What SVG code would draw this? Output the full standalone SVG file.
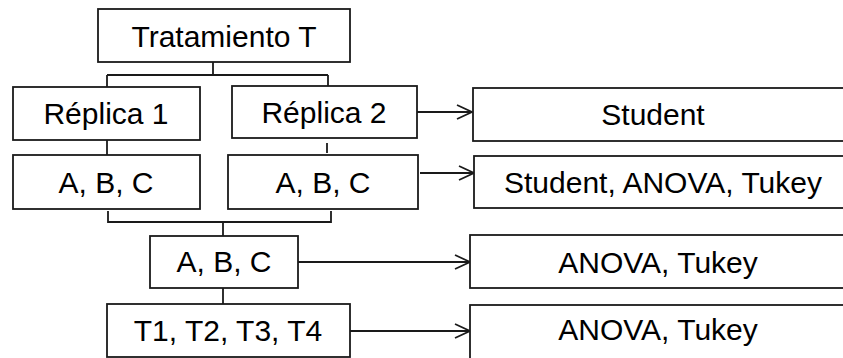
<svg xmlns="http://www.w3.org/2000/svg" width="843" height="358" viewBox="0 0 843 358">
<defs>
<style>
.box{fill:#fff;stroke:#1a1a1a;stroke-width:1.8}
.lbl{font-family:"Liberation Sans",Arial,sans-serif;font-size:30px;fill:#000;text-anchor:middle}
.con{fill:none;stroke:#1a1a1a;stroke-width:1.8}
</style>
<marker id="arr" markerUnits="userSpaceOnUse" markerWidth="20" markerHeight="20" refX="16" refY="8" orient="auto">
<path d="M1,1 L16,8 L1,15" fill="none" stroke="#1a1a1a" stroke-width="1.8"/>
</marker>
</defs>
<rect width="843" height="358" fill="#fff"/>
<g id="connectors">
<path class="con" d="M213,62 V75 M107,75 H328 M107,75 V87 M328,75 V86"/>
<path class="con" d="M107,140 V155"/>
<path class="con" d="M327,143 V153"/>
<path class="con" d="M108,211 V222 H331 V211 M223,222 V236"/>
<path class="con" d="M223,288 V304"/>
<path class="con" d="M417,112 H472" marker-end="url(#arr)"/>
<path class="con" d="M420,173 H474" marker-end="url(#arr)"/>
<path class="con" d="M298,262 H470" marker-end="url(#arr)"/>
<path class="con" d="M350,331 H470" marker-end="url(#arr)"/>
</g>
<g id="n-tratamiento"><rect class="box" x="98" y="9" width="252" height="53"/><text class="lbl" x="224" y="47">Tratamiento T</text></g>
<g id="n-replica1"><rect class="box" x="13" y="87" width="187" height="53"/><text class="lbl" x="106" y="124">Réplica 1</text></g>
<g id="n-replica2"><rect class="box" x="232" y="86" width="185" height="52"/><text class="lbl" x="324" y="123">Réplica 2</text></g>
<g id="n-abc1"><rect class="box" x="13" y="155" width="187" height="54"/><text class="lbl" x="106" y="193">A, B, C</text></g>
<g id="n-abc2"><rect class="box" x="228" y="155" width="190" height="54"/><text class="lbl" x="323" y="193">A, B, C</text></g>
<g id="n-abc3"><rect class="box" x="150" y="236" width="148" height="52"/><text class="lbl" x="224" y="272">A, B, C</text></g>
<g id="n-t"><rect class="box" x="107" y="304" width="243" height="53"/><text class="lbl" x="228" y="341">T1, T2, T3, T4</text></g>
<g id="n-student"><rect class="box" x="473" y="88" width="380" height="53"/><text class="lbl" x="653" y="125">Student</text></g>
<g id="n-student-anova"><rect class="box" x="474" y="156" width="380" height="52"/><text class="lbl" x="663" y="193">Student, ANOVA, Tukey</text></g>
<g id="n-anova1"><rect class="box" x="470" y="235" width="380" height="53"/><text class="lbl" x="658" y="273">ANOVA, Tukey</text></g>
<g id="n-anova2"><rect class="box" x="470" y="305" width="380" height="60"/><text class="lbl" x="658" y="340">ANOVA, Tukey</text></g>
</svg>
